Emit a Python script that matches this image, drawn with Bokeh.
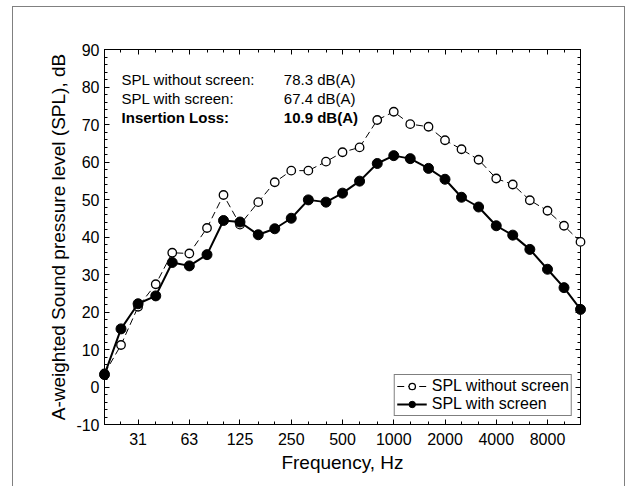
from bokeh.plotting import figure
from bokeh.models import (FixedTicker, SingleIntervalTicker, LinearAxis, LogAxis,
                          Legend, LegendItem, Label, ColumnDataSource)
from bokeh.embed import file_html
from bokeh.resources import INLINE

# ---- data ----
freqs = [20, 25, 31.5, 40, 50, 63, 80, 100, 125, 160, 200, 250, 315, 400, 500, 630,
         800, 1000, 1250, 1600, 2000, 2500, 3150, 4000, 5000, 6300, 8000, 10000, 12500]
spl_without = [3.6, 11.2, 21.4, 27.4, 35.8, 35.6, 42.4, 51.2, 43.3, 49.3, 54.6, 57.7, 57.7,
               60.1, 62.6, 63.9, 71.2, 73.4, 70.1, 69.4, 65.8, 63.4, 60.6, 55.6, 54.0, 49.8,
               47.0, 43.0, 38.7]
spl_with = [3.3, 15.5, 22.2, 24.3, 33.2, 32.3, 35.3, 44.4, 44.0, 40.6, 42.2, 45.0, 49.9,
            49.3, 51.7, 54.9, 59.6, 61.7, 60.9, 58.3, 55.4, 50.6, 48.0, 43.0, 40.5, 36.7,
            31.4, 26.5, 20.7]
tick_values = [31.5, 63, 125, 250, 500, 1000, 2000, 4000, 8000]
tick_labels = ["31", "63", "125", "250", "500", "1000", "2000", "4000", "8000"]
y_tick_values = [-10, 0, 10, 20, 30, 40, 50, 60, 70, 80, 90]
y_tick_labels = ["-10", "0", "10", "20", "30", "40", "50", "60", "70", "80", "90"]
series_names = ["SPL without screen", "SPL with screen"]
summary_keys = ["SPL without screen:", "SPL with screen:", "Insertion Loss:"]
summary_vals = ["78.3 dB(A)", "67.4 dB(A)", "10.9 dB(A)"]

FONT = "Liberation Sans"

p = figure(width=613, height=480, x_axis_type="log",
           x_range=(freqs[0], freqs[-1]), y_range=(-10, 90),
           output_backend="svg", toolbar_location=None,
           min_border_left=91, min_border_right=46, min_border_top=42, min_border_bottom=63,
           styles={"margin-left": "12px", "margin-top": "6px",
                   "border-left": "1.5px solid #808080",
                   "border-top": "1.5px solid #808080",
                   "border-right": "1.5px solid #808080"})
p.grid.visible = False
p.outline_line_color = "black"
p.outline_line_width = 1
p.background_fill_color = "white"
p.border_fill_color = "white"

xticker = FixedTicker(ticks=tick_values, minor_ticks=freqs)
yticker = SingleIntervalTicker(interval=10, num_minor_ticks=5)

def style_axis(ax, labels=True):
    ax.axis_line_color = "black"
    ax.axis_line_width = 1
    ax.major_tick_line_color = "black"
    ax.minor_tick_line_color = "black"
    ax.major_tick_in = 5
    ax.major_tick_out = 0
    ax.minor_tick_in = 3
    ax.minor_tick_out = 0
    ax.major_label_text_font = FONT
    ax.major_label_text_font_size = "16px"
    ax.major_label_text_color = "black"
    if not labels:
        ax.major_label_text_font_size = "0px"
        ax.major_label_text_alpha = 0

xa = p.xaxis[0]
xa.ticker = xticker
xa.major_label_overrides = dict(zip(tick_values, tick_labels))
style_axis(xa)
xa.major_label_standoff = 8
xa.axis_label = "Frequency, Hz"
xa.axis_label_text_font = FONT
xa.axis_label_text_font_size = "19px"
xa.axis_label_text_font_style = "normal"
xa.axis_label_text_color = "black"
xa.axis_label_standoff = 4

ya = p.yaxis[0]
ya.ticker = yticker
ya.major_label_overrides = dict(zip(y_tick_values, y_tick_labels))
style_axis(ya)
ya.major_label_standoff = 5
ya.axis_label = "A-weighted Sound pressure level (SPL), dB"
ya.axis_label_text_font = FONT
ya.axis_label_text_font_size = "19px"
ya.axis_label_text_font_style = "normal"
ya.axis_label_text_color = "black"
ya.axis_label_standoff = 4

top = LogAxis(ticker=xticker)
style_axis(top, labels=False)
p.add_layout(top, "above")
right = LinearAxis(ticker=yticker)
style_axis(right, labels=False)
p.add_layout(right, "right")

src = ColumnDataSource(dict(f=freqs, a=spl_without, b=spl_with))

l1 = p.line("f", "a", source=src, line_color="black", line_width=1, line_dash="7 4",
            level="overlay")
m1 = p.scatter("f", "a", source=src, marker="circle", size=8.5, fill_color="white",
               line_color="black", line_width=1.3, level="overlay")
l2 = p.line("f", "b", source=src, line_color="black", line_width=2, level="overlay")
m2 = p.scatter("f", "b", source=src, marker="circle", size=10, fill_color="black",
               line_color="black", line_width=1, level="overlay")

legend = Legend(items=[LegendItem(label=series_names[0], renderers=[l1, m1]),
                       LegendItem(label=series_names[1], renderers=[l2, m2])],
                location="bottom_right", margin=8, padding=2, spacing=0,
                glyph_width=30, glyph_height=16, label_height=16, label_standoff=5,
                label_text_font=FONT, label_text_font_size="16px", label_text_color="black",
                border_line_color="black", border_line_width=1, background_fill_alpha=1)
p.add_layout(legend)

# summary text block
key_x = 25.2
val_x = 226
row_y = [81.9, 76.85, 71.8]
for i in range(3):
    style = "bold" if i == 2 else "normal"
    p.add_layout(Label(x=key_x, y=row_y[i], text=summary_keys[i], text_font=FONT,
                       text_font_size="15px", text_font_style=style, text_color="black",
                       text_baseline="middle", text_align="left"))
    p.add_layout(Label(x=val_x, y=row_y[i], text=summary_vals[i], text_font=FONT,
                       text_font_size="15px", text_font_style=style, text_color="black",
                       text_baseline="middle", text_align="left"))

open("out.html", "w").write(file_html(p, INLINE))
